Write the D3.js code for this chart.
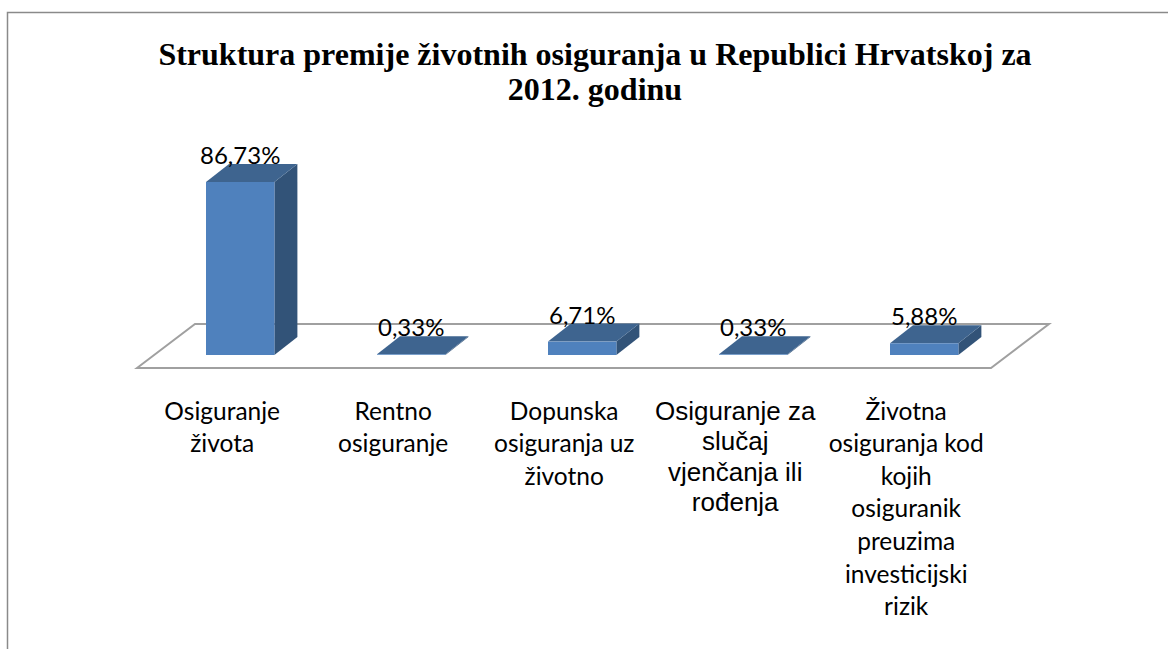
<!DOCTYPE html>
<html>
<head>
<meta charset="utf-8">
<script src="https://cdn.jsdelivr.net/npm/d3@7"></script>
<style>
html, body { margin: 0; padding: 0; background: #fff; }
svg { display: block; }
</style>
</head>
<body>
<svg width="1168" height="649"></svg>
<script>
var categories = ["Osiguranje života", "Rentno osiguranje", "Dopunska osiguranja uz životno", "Osiguranje za slučaj vjenčanja ili rođenja", "Životna osiguranja kod kojih osiguranik preuzima investicijski rizik"];
var values = [86.73, 0.33, 6.71, 0.33, 5.88];
var valueLabels = ["86,73%", "0,33%", "6,71%", "0,33%", "5,88%"];
var categoryLines = [
    ["Osiguranje", "života"],
    ["Rentno", "osiguranje"],
    ["Dopunska", "osiguranja uz", "životno"],
    ["Osiguranje za", "slučaj", "vjenčanja ili", "rođenja"],
    ["Životna", "osiguranja kod", "kojih", "osiguranik", "preuzima", "investicijski", "rizik"]
];
var titleLines = ["Struktura premije životnih osiguranja u Republici Hrvatskoj za", "2012. godinu"];

var svg = d3.select("svg");

var dx = 23, dy = -18; // 3d depth

var x = d3.scaleBand()
    .domain(categories)
    .range([206, 958.4])
    .paddingInner(0.6)
    .paddingOuter(0);

var y = d3.scaleLinear()
    .domain([0, 86.73])
    .range([355, 182]);

// frame
svg.append("path")
    .attr("d", "M7.5,649V12.5H1168")
    .attr("fill", "none")
    .attr("stroke", "#8a8a8a")
    .attr("stroke-width", 1.5);

// floor
svg.append("path")
    .attr("d", "M137,368L195,324H1049L991,368Z")
    .attr("fill", "#fff")
    .attr("stroke", "#a0a0a0")
    .attr("stroke-width", 2);

// bars
var bars = svg.selectAll("g.bar")
    .data(values)
    .enter().append("g")
      .attr("class", "bar");

function left(d, i) { return x(categories[i]); }
function right(d, i) { return x(categories[i]) + x.bandwidth(); }

bars.append("path") // side
    .attr("fill", "#325378")
    .attr("d", function(d, i) {
        var r = right(d, i);
        return "M" + r + "," + y(0) + "L" + (r + dx) + "," + (y(0) + dy) + "L" + (r + dx) + "," + (y(d) + dy) + "L" + r + "," + y(d) + "Z";
    });

bars.append("path") // top
    .attr("fill", "#3e648f")
    .attr("d", function(d, i) {
        var l = left(d, i), r = right(d, i);
        return "M" + l + "," + y(d) + "L" + (l + dx) + "," + (y(d) + dy) + "L" + (r + dx) + "," + (y(d) + dy) + "L" + r + "," + y(d) + "Z";
    });

bars.append("rect") // front
    .attr("fill", "#4f81bd")
    .attr("x", function(d, i) { return left(d, i); })
    .attr("y", function(d) { return y(d); })
    .attr("width", x.bandwidth())
    .attr("height", function(d) { return y(0) - y(d); });

// value labels
svg.selectAll("text.value")
    .data(values)
    .enter().append("text")
      .attr("class", "value")
      .attr("x", function(d, i) { return x(categories[i]) + x.bandwidth() / 2; })
      .attr("y", function(d) { return y(d) + dy; })
      .attr("text-anchor", "middle")
      .style("font-family", "Lato")
      .style("font-size", "24px")
      .style("fill", "#000")
      .text(function(d, i) { return valueLabels[i]; });

// category labels
var cat = svg.selectAll("text.cat")
    .data(categories)
    .enter().append("text")
      .attr("class", "cat")
      .attr("text-anchor", "middle")
      .style("fill", "#000")
      .style("font-family", function(d, i) { return i == 3 ? "'Liberation Sans'" : "Lato"; })
      .style("font-size", function(d, i) { return i == 3 ? "26px" : "24.5px"; })
      .attr("transform", function(d) { return "translate(" + (x(d) + x.bandwidth() / 2 - 18) + ",0)"; });

cat.selectAll("tspan")
    .data(function(d, i) { return categoryLines[i]; })
    .enter().append("tspan")
      .attr("x", 0)
      .attr("y", function(d, i) {
          var step = categoryLines[3].indexOf(d) >= 0 ? 30.5 : 32.6;
          return 419.5 + i * step;
      })
      .text(function(d) { return d; });

// title
svg.selectAll("text.title")
    .data(titleLines)
    .enter().append("text")
      .attr("class", "title")
      .attr("x", 595)
      .attr("y", function(d, i) { return 65 + i * 35; })
      .attr("text-anchor", "middle")
      .style("font-family", "'Liberation Serif'")
      .style("font-weight", "bold")
      .style("font-size", "32px")
      .style("fill", "#000")
      .text(function(d) { return d; });
</script>
</body>
</html>
